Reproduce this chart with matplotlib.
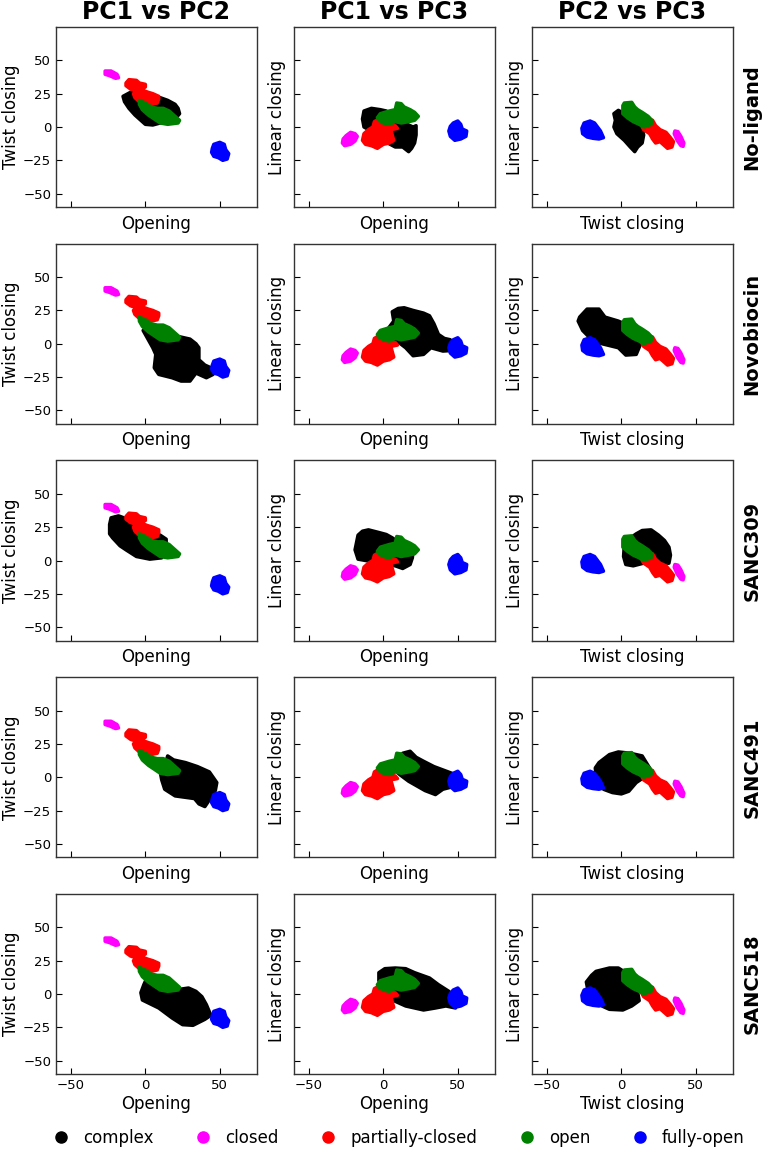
import matplotlib
matplotlib.use("Agg")
import matplotlib.pyplot as plt
from matplotlib.lines import Line2D

# ---------------- data (outlines of the projected point clouds) ----------------
col_titles = ["PC1 vs PC2", "PC1 vs PC3", "PC2 vs PC3"]
x_labels = ["Opening", "Opening", "Twist closing"]
y_labels = ["Twist closing", "Linear closing", "Linear closing"]
row_labels = ["No-ligand", "Novobiocin", "SANC309", "SANC491", "SANC518"]
legend_labels = ["complex", "closed", "partially-closed", "open", "fully-open"]
colors = ["black", "magenta", "red", "green", "blue"]
ticks_x = [-50, 0, 50]
ticks_y = [-50, -25, 0, 25, 50]

# reference structures (same in every row) -- PC1 vs PC2
closed_pc12 = [(-27, 42), (-23, 42), (-19, 39.5), (-18, 37), (-20, 36.5), (-24, 38.5), (-27, 39.5)]
pclosed_pc12 = [(-13, 33), (-11, 35.5), (-6, 35), (-4, 33), (0, 32), (0, 30), (-3, 28), (2, 26), (5, 25),
                (9, 23), (9, 21), (8, 18), (4, 17), (0, 18.5), (-4, 19), (-7, 22), (-8, 25), (-6, 27),
                (-10, 28.5), (-13, 31)]
open_pc12 = [(-4, 20), (0, 18), (4, 15), (8, 14), (12, 14), (16, 12), (20, 8), (23, 5), (22, 3), (15, 2),
             (10, 3), (6, 6), (2, 9), (-2, 13), (-4, 17)]
fopen_pc12 = [(46, -13), (50, -11.5), (53, -13), (54, -17), (56, -20), (55, -24), (52, -25), (49, -23),
              (46, -22), (44.5, -19), (45, -16)]

# PC1 vs PC3
closed_pc13 = [(-22, -4), (-19, -5), (-17.5, -7), (-19, -10.5), (-22, -13), (-26, -14), (-27.5, -12),
               (-27, -9), (-25, -6.5)]
pclosed_pc13 = [(-6, 4), (-3, 6), (0, 4), (3, 2), (8, 1), (9.5, -1), (5, -2), (6, -6), (7, -10), (4, -12),
                (0, -13), (-4, -16), (-8, -14), (-12, -13), (-14, -10), (-13, -5), (-10, -2), (-7, 0)]
open_pc13 = [(-4, 7), (-2, 10), (4, 12), (8, 13), (9, 18), (12, 17.5), (14, 15), (18, 13), (21, 11),
             (23.5, 8), (21, 5), (17, 4), (12, 3), (8, 4), (4, 2), (0, 3), (-3, 5)]
fopen_pc13 = [(47, 3), (50, 4.5), (52, 2), (53, -1.5), (56, -3), (55.5, -7), (52, -9), (48, -10), (45, -7),
              (44, -3), (45, 0.5)]

# PC2 vs PC3
closed_pc23 = [(36, -3), (38, -3.5), (40, -7), (42, -12), (41.5, -14.5), (40, -14), (37.5, -10), (35.5, -5)]
pclosed_pc23 = [(15, 3), (18, 6), (21, 5), (23, 1), (26, -2), (30, -4), (33, -8), (35, -11), (34, -15),
                (31, -16), (28, -13), (26, -11), (23, -12), (21, -9), (19, -5), (15, -2), (14, 0)]
open_pc23 = [(1, 16), (2, 18), (7, 18.5), (9, 15), (11, 13), (14, 11), (18, 8), (20.5, 5), (20, 2),
             (15, 0), (12, 2), (8, 4), (4, 7), (1, 10)]
fopen_pc23 = [(-25, 3), (-21, 4.5), (-18, 3), (-16, 0), (-14, -3), (-12, -8), (-15, -9), (-19, -8.5),
              (-23, -7.5), (-26, -5), (-26.5, -1)]

# complexes, one outline per row and projection
noligand_pc12 = [(-15, 23), (-10, 26), (-5, 28), (0, 26), (5, 23), (10, 22), (15, 20), (20, 17), (22, 14),
                 (23, 10), (20, 6), (15, 4), (10, 3), (5, 1.5), (0, 2), (-3, 5), (-7, 9), (-11, 14), (-14, 19)]
noligand_pc13 = [(-13, 12), (-8, 14), (-2, 13), (2, 12), (6, 8), (14, 3), (20, 0), (22, 1), (22, -6),
                 (21, -12), (19, -16), (17, -18.5), (13, -15), (8, -15), (3, -12), (-5, -5), (-13, 0), (-14, 6)]
noligand_pc23 = [(-5, 10), (-2, 12.5), (2, 10), (5, 7), (10, 3), (14, -1), (15, -6), (14, -12), (11, -15),
                 (9, -18.5), (6, -15), (2, -10), (-3, -5), (-5, 0), (-4, 5)]

novo_pc12 = [(-1.5, 10), (1, 12), (5, 10), (10, 6), (15, 5), (22, 5.5), (30, 3.5), (34, 0), (36, -3),
             (36, -12), (40, -16), (44, -18), (45.5, -23), (41, -25.5), (34, -22), (30, -28), (24, -28),
             (18, -25.5), (9, -23), (6, -18), (7, -8), (5, -3), (1, 5)]
novo_pc13 = [(-3, 7), (3, 11), (7, 17), (6, 24), (10, 26.5), (14, 27), (20, 25), (27, 23), (31, 21), (34, 15),
             (37, 7), (41, 4), (45, 3), (47, -5), (40, -5.5), (32, -3), (27, -8), (20, -9), (15, -3), (8, 3),
             (2, 4)]
novo_pc23 = [(-29, 17), (-28, 20), (-23, 26), (-15, 26), (-11, 20), (-2, 17), (3, 14.5), (10, 9), (13, 0),
             (10, -8), (3, -8.5), (-2, -3), (-13, 0), (-19, 2), (-26, 10)]

s309_pc12 = [(-23, 32), (-18, 33.5), (-12, 31), (-8, 27), (-2, 24), (5, 21), (10, 19), (14, 16), (14, 10),
             (11, 2), (3, 1), (-6, 3), (-13, 8), (-17, 11), (-22, 17), (-24, 20), (-24, 27)]
s309_pc13 = [(-19, 8), (-17, 19), (-14, 22), (-10, 23), (-3, 21), (2, 19.5), (6, 17), (10, 14), (16, 12),
             (20, 8), (19.5, 2), (18, -3), (13, -6), (8, -4), (2, -3), (-6, -1), (-12, 0), (-17, 1)]
s309_pc23 = [(2, 12), (5, 16), (10, 20), (14, 22.5), (20, 23), (25, 19), (29, 15), (32, 10), (33, 4), (32, -2),
             (25, -3), (15, -2), (8, -4), (3, -3), (1.5, 3)]

s491_pc12 = [(10, 4), (14, 12), (15, 16), (19, 13), (27, 11), (35, 8), (43, 4), (48, -4), (47, -10), (43, -17),
             (40, -22), (36, -20), (33, -16), (20, -14), (13, -9), (11, -2)]
s491_pc13 = [(8, 5), (10, 10), (13, 18), (18, 19.5), (22, 15), (27, 12), (34, 8), (40, 5.5), (46, 3), (47, -7),
             (40, -9), (35, -13), (28, -10), (17, -3), (11, 2)]
s491_pc23 = [(-17.5, 7), (-15, 11), (-8, 17), (-2, 19), (6, 18), (14, 16), (19.5, 6), (16, 0.5), (10, -4),
             (5, -10.5), (0, -12.5), (-6, -11.5), (-12, -9), (-17, 1)]

s518_pc12 = [(-3, 1), (-1, 7), (0, 9.5), (4, 11), (8, 9), (12, 5), (18, 3.5), (23, 3.5), (29, 4.5), (34, 2),
             (38, -2), (41, -8), (44, -16), (40, -19), (32, -23.5), (25, -23), (18, -18), (9, -10.5), (-2, -4.5)]
s518_pc13 = [(-3, 10), (-3, 16), (1, 19), (8, 19.5), (15, 19), (21, 16), (31, 12), (37, 7), (44, 2),
             (48.5, -4), (48.5, -10.5), (42, -9), (35, -10.5), (27, -12), (15, -9), (8, -5.5), (4, 0), (-1, 6)]
s518_pc23 = [(-23.5, 9), (-20, 14), (-17, 17), (-8, 19.5), (-2, 19.5), (3, 16), (5, 10), (9, 6), (11, 1),
             (12, -5), (7, -9), (1, -12), (-8, -11.5), (-13, -9), (-18, -5), (-22, 0)]

references = [
    [closed_pc12, pclosed_pc12, open_pc12, fopen_pc12],
    [closed_pc13, pclosed_pc13, open_pc13, fopen_pc13],
    [closed_pc23, pclosed_pc23, open_pc23, fopen_pc23],
]
complexes = [
    [noligand_pc12, noligand_pc13, noligand_pc23],
    [novo_pc12, novo_pc13, novo_pc23],
    [s309_pc12, s309_pc13, s309_pc23],
    [s491_pc12, s491_pc13, s491_pc23],
    [s518_pc12, s518_pc13, s518_pc23],
]

# ---------------- figure ----------------
W, H = 766, 1150
fig = plt.figure(figsize=(W / 100, H / 100), dpi=100)
plt.rcParams['font.family'] = ['DejaVu Sans']

col_left = [56, 294, 532]
ax_w, ax_h = 201, 180
row_top0, row_pitch = 27, 216.75


def blob(ax, outline, color):
    xs = [p[0] for p in outline]
    ys = [p[1] for p in outline]
    ax.fill(xs, ys, facecolor=color, edgecolor=color, linewidth=2.5, joinstyle='round')


for r in range(5):
    for c in range(3):
        top = row_top0 + r * row_pitch
        ax = fig.add_axes([col_left[c] / W, 1 - (top + ax_h) / H, ax_w / W, ax_h / H])
        blob(ax, complexes[r][c], colors[0])
        for k, outline in enumerate(references[c]):
            blob(ax, outline, colors[k + 1])
        ax.set_xlim(-60, 75)
        ax.set_ylim(-60, 75)
        ax.set_xticks(ticks_x)
        ax.set_yticks(ticks_y)
        ax.tick_params(direction='in', labelsize=9.5, length=4, width=0.8)
        if c != 0:
            ax.set_yticklabels([])
        if r != 4:
            ax.set_xticklabels([])
        ax.set_xlabel(x_labels[c], fontsize=12, labelpad=2)
        ax.set_ylabel(y_labels[c], fontsize=12, labelpad=2)
        for sp in ax.spines.values():
            sp.set_linewidth(1.0)
            sp.set_color('#333333')
        if r == 0:
            ax.set_title(col_titles[c], fontsize=17, fontweight='bold', pad=6)
        if c == 2:
            ax.text(1.095, 0.5, row_labels[r], transform=ax.transAxes, rotation=90,
                    fontsize=14, fontweight='bold', ha='center', va='center')

handles = [Line2D([], [], marker='o', linestyle='none', markersize=8,
                  markerfacecolor=col, markeredgecolor=col) for col in colors]
fig.legend(handles, legend_labels, loc='center', ncol=5, frameon=False, fontsize=12,
           bbox_to_anchor=(0.515, 1 - 1138 / H), handletextpad=0.3, columnspacing=2.0)

fig.savefig("out.png", dpi=100)
